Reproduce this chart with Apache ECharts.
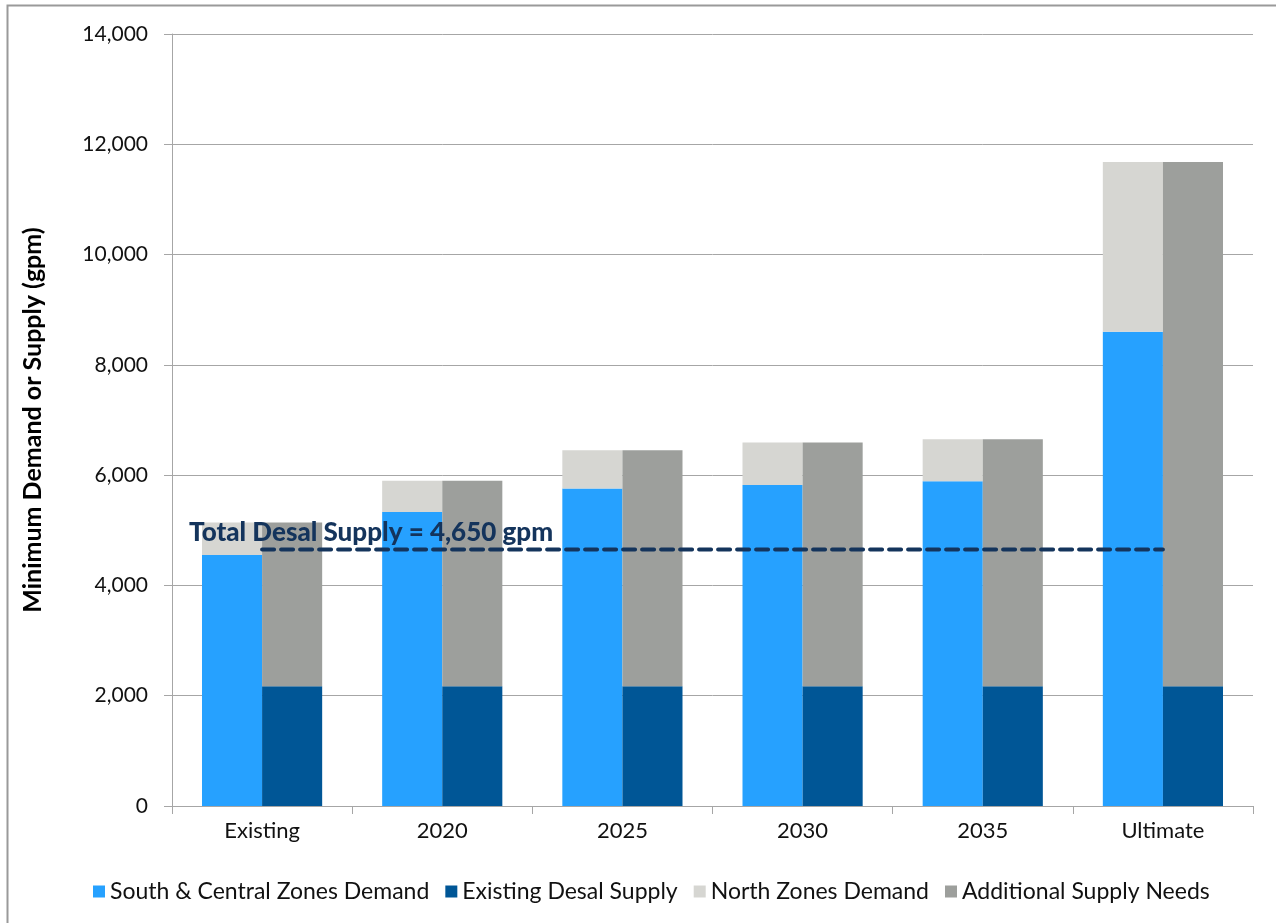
<!DOCTYPE html>
<html>
<head>
<meta charset="utf-8">
<script src="https://cdn.jsdelivr.net/npm/echarts@6/dist/echarts.min.js"></script>
<style>
  html, body { margin: 0; padding: 0; background: #fff; }
  #chart { width: 1276px; height: 923px; }
</style>
</head>
<body>
<div id="chart"></div>
<script>
// Planning periods on the x axis
const categories = ['Existing', '2020', '2025', '2030', '2035', 'Ultimate'];

// Demand stack (gpm)
const southCentralDemand = [4550, 5330, 5760, 5820, 5890, 8600];
const northDemand = [590, 570, 690, 770, 760, 3080];

// Supply stack (gpm)
const existingDesalSupply = [2170, 2170, 2170, 2170, 2170, 2170];
const additionalSupplyNeeds = [2970, 3730, 4280, 4420, 4480, 9510];

// Total desalination supply reference level
const totalDesalSupply = 4650;
const totalDesalLabel = 'Total Desal Supply = 4,650 gpm';

// Y axis ticks
const yMin = 0, yMax = 14000, yStep = 2000;

const FONT = 'Lato';
const TEXT = '#111';
const NAVY = '#14345C';

const chart = echarts.init(document.getElementById('chart'));

chart.setOption({
  animation: false,
  backgroundColor: '#fff',
  textStyle: { fontFamily: FONT },
  graphic: [{
    type: 'rect',
    shape: { x: 7.5, y: 5.5, width: 1400, height: 1000 },
    style: { fill: 'none', stroke: '#9a9a9a', lineWidth: 2 },
    silent: true
  }],
  grid: { left: 172, right: 23, top: 34, bottom: 117 },
  legend: {
    bottom: 15,
    left: 88,
    icon: 'rect',
    itemWidth: 12,
    itemHeight: 12,
    itemGap: 16,
    textStyle: { fontFamily: FONT, fontSize: 23, color: TEXT },
    data: ['South & Central Zones Demand', 'Existing Desal Supply', 'North Zones Demand', 'Additional Supply Needs']
  },
  xAxis: [{
    type: 'category',
    data: categories,
    axisLine: { lineStyle: { color: '#a6a6a6', width: 1 } },
    axisTick: { show: true, length: 8, lineStyle: { color: '#a6a6a6' } },
    axisLabel: { fontFamily: FONT, fontSize: 22, color: TEXT, margin: 14 }
  }, {
    // hidden numeric axis spanning the same width, used to place the reference line
    type: 'value',
    min: 0, max: 6,
    show: false
  }],
  yAxis: {
    type: 'value',
    min: yMin, max: yMax, interval: yStep,
    name: 'Minimum Demand or Supply (gpm)',
    nameLocation: 'middle',
    nameGap: 127,
    nameTextStyle: { fontFamily: FONT, fontSize: 25, fontWeight: 'bold', color: '#000' },
    axisLine: { show: true, lineStyle: { color: '#a6a6a6' } },
    axisTick: { show: true, length: 8, lineStyle: { color: '#a6a6a6' } },
    splitLine: { lineStyle: { color: '#a6a6a6', width: 1 } },
    axisLabel: {
      fontFamily: FONT, fontSize: 21, color: TEXT, margin: 24,
      formatter: v => v.toLocaleString('en-US')
    }
  },
  series: [{
    name: 'South & Central Zones Demand',
    type: 'bar', stack: 'demand',
    barGap: '0%', barCategoryGap: '33.3%',
    itemStyle: { color: '#26A1FF' },
    data: southCentralDemand
  }, {
    name: 'Existing Desal Supply',
    type: 'bar', stack: 'supply',
    itemStyle: { color: '#005696' },
    data: existingDesalSupply
  }, {
    name: 'North Zones Demand',
    type: 'bar', stack: 'demand',
    itemStyle: { color: '#D6D6D2' },
    data: northDemand
  }, {
    name: 'Additional Supply Needs',
    type: 'bar', stack: 'supply',
    itemStyle: { color: '#9D9F9C' },
    data: additionalSupplyNeeds
  }, {
    name: 'Total Desal Supply',
    type: 'line',
    xAxisIndex: 1,
    symbol: 'none',
    lineStyle: { color: NAVY, width: 4, type: [12, 7], cap: 'round' },
    data: [[0.5, totalDesalSupply], [5.5, totalDesalSupply]],
    z: 5
  }, {
    name: 'Total Desal Label',
    type: 'scatter',
    xAxisIndex: 1,
    symbolSize: 0,
    itemStyle: { color: NAVY, opacity: 1 },
    emphasis: { disabled: true },
    label: {
      show: true,
      position: 'top',
      align: 'left',
      distance: 4,
      offset: [-73, 0],
      formatter: totalDesalLabel,
      fontFamily: FONT, fontSize: 26, fontWeight: 900, color: NAVY, opacity: 1
    },
    data: [[0.5, totalDesalSupply]],
    z: 6
  }]
});
</script>
</body>
</html>
